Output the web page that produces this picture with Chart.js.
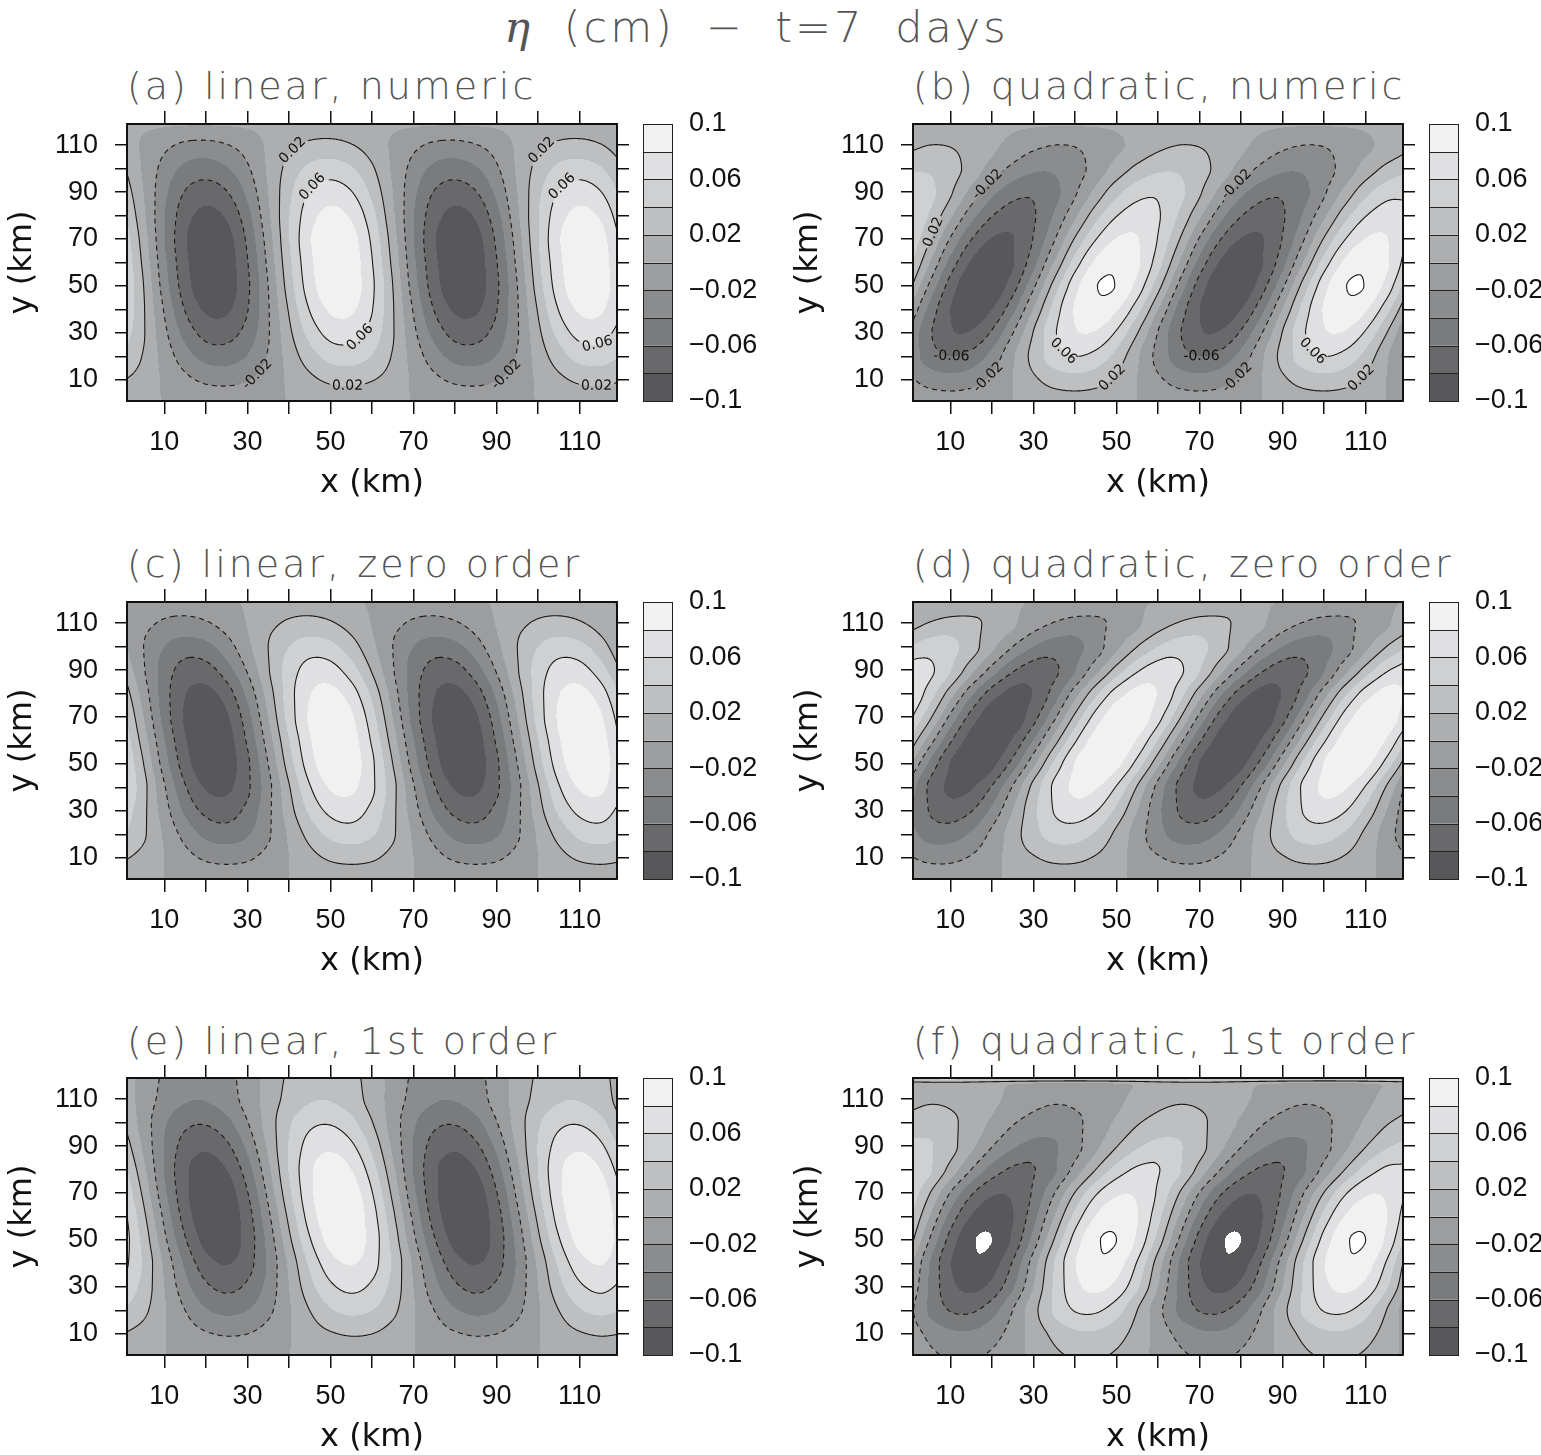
<!DOCTYPE html>
<html>
<head>
<meta charset="utf-8">
<script src="https://cdn.jsdelivr.net/npm/chart.js@4.4.1/dist/chart.umd.min.js"></script>
<style>
html, body { margin: 0; padding: 0; background: #fff; overflow: hidden; }
body { width: 1541px; height: 1455px; position: relative; font-family: "DejaVu Sans", sans-serif; }
canvas { position: absolute; }
.ttl { position: absolute; font-size: 38px; line-height: 40px; color: #555; white-space: nowrap; font-weight: 200; letter-spacing: 3px; }
</style>
</head>
<body>
<div class="ttl" style="left:-14px;width:1541px;top:5px;text-align:center;font-size:43px;line-height:44px;letter-spacing:3px;word-spacing:14px"><span style="font-family:'DejaVu Serif';font-style:italic;font-weight:normal">&eta;</span> (cm) &minus; t=7 days</div>
<div class="ttl" style="left:127px;top:66px">(a) linear, numeric</div>
<div class="ttl" style="left:913px;top:66px">(b) quadratic, numeric</div>
<div class="ttl" style="left:127px;top:544px">(c) linear, zero order</div>
<div class="ttl" style="left:913px;top:544px">(d) quadratic, zero order</div>
<div class="ttl" style="left:127px;top:1021px">(e) linear, 1st order</div>
<div class="ttl" style="left:913px;top:1021px">(f) quadratic, 1st order</div>

<canvas id="ca" width="800" height="491" style="left:0;top:14px"></canvas>
<canvas id="cb" width="800" height="491" style="left:786px;top:14px"></canvas>
<canvas id="cc" width="800" height="491" style="left:0;top:492px"></canvas>
<canvas id="cd" width="800" height="491" style="left:786px;top:492px"></canvas>
<canvas id="ce" width="800" height="491" style="left:0;top:968px"></canvas>
<canvas id="cf" width="800" height="491" style="left:786px;top:968px"></canvas>

<script>
// grid nodes (km)
const xKm = [0,5,10,15,20,25,30,35,40,45,50,55,60,65,70,75,80,85,90,95,100,105,110,115,120];
const yKm = [0,10,20,30,40,50,60,70,80,90,100,110,120];
const yKmF = [0,10,20,30,40,50,60,70,80,90,100,110,116,119];

const axisTicks = [10,20,30,40,50,60,70,80,90,100,110];
const axisLabels = [10,30,50,70,90,110];

// eta in units of 0.01 cm
const shadeEdges = [-10,-8,-6,-4,-2,0,2,4,6,8,10];
const shadeColors = ['#58585a','#69696b','#7a7b7d','#8b8c8e','#9c9d9f','#adaeb0','#bebfc1','#cfd0d2','#e0e0e2','#f1f1f2'];
const lineLevels = [-6,-2,2,6,10];
const barTicks = [-0.1,-0.06,-0.02,0.02,0.06,0.1];
const barLabels = ['\u22120.1','\u22120.06','\u22120.02','0.02','0.06','0.1'];

// rows go from y=0 (first) to the top; columns follow xKm
const etaA = [
  [0.3,0.1,0,-0.2,-0.3,-0.3,-0.3,-0.1,0,0.2,0.3,0.3,0.3,0.1,0,-0.2,-0.3,-0.3,-0.3,-0.1,0,0.2,0.3,0.3,0.3],
  [2.1,1.1,-0.3,-1.5,-2.4,-2.6,-2.1,-1.1,0.3,1.5,2.4,2.6,2.1,1.1,-0.3,-1.5,-2.4,-2.6,-2.1,-1.1,0.3,1.5,2.4,2.6,2.1],
  [3.9,1.8,-0.8,-3.1,-4.7,-4.9,-3.9,-1.8,0.8,3.1,4.7,4.9,3.9,1.8,-0.8,-3.1,-4.7,-4.9,-3.9,-1.8,0.8,3.1,4.7,4.9,3.9],
  [5.2,2.2,-1.5,-4.7,-6.7,-6.8,-5.2,-2.2,1.5,4.7,6.7,6.8,5.2,2.2,-1.5,-4.7,-6.7,-6.8,-5.2,-2.2,1.5,4.7,6.7,6.8,5.2],
  [6.1,2.2,-2.2,-6.1,-8.3,-8.3,-6.1,-2.2,2.2,6.1,8.3,8.3,6.1,2.2,-2.2,-6.1,-8.3,-8.3,-6.1,-2.2,2.2,6.1,8.3,8.3,6.1],
  [6.4,2.0,-3.0,-7.1,-9.4,-9.1,-6.4,-2.0,3.0,7.1,9.4,9.1,6.4,2.0,-3.0,-7.1,-9.4,-9.1,-6.4,-2.0,3.0,7.1,9.4,9.1,6.4],
  [6.1,1.5,-3.5,-7.5,-9.6,-9.1,-6.1,-1.5,3.5,7.5,9.6,9.1,6.1,1.5,-3.5,-7.5,-9.6,-9.1,-6.1,-1.5,3.5,7.5,9.6,9.1,6.1],
  [5.6,1.0,-3.9,-7.8,-9.6,-8.8,-5.6,-1.0,3.9,7.8,9.6,8.8,5.6,1.0,-3.9,-7.8,-9.6,-8.8,-5.6,-1.0,3.9,7.8,9.6,8.8,5.6],
  [4.7,0.4,-3.9,-7.2,-8.6,-7.7,-4.7,-0.4,3.9,7.2,8.6,7.7,4.7,0.4,-3.9,-7.2,-8.6,-7.7,-4.7,-0.4,3.9,7.2,8.6,7.7,4.7],
  [3.5,0,-3.5,-6.1,-7.0,-6.1,-3.5,0,3.5,6.1,7.0,6.1,3.5,0,-3.5,-6.1,-7.0,-6.1,-3.5,0,3.5,6.1,7.0,6.1,3.5],
  [2.3,-0.3,-2.7,-4.5,-5.0,-4.2,-2.3,0.3,2.7,4.5,5.0,4.2,2.3,-0.3,-2.7,-4.5,-5.0,-4.2,-2.3,0.3,2.7,4.5,5.0,4.2,2.3],
  [1.1,-0.3,-1.5,-2.4,-2.6,-2.1,-1.1,0.3,1.5,2.4,2.6,2.1,1.1,-0.3,-1.5,-2.4,-2.6,-2.1,-1.1,0.3,1.5,2.4,2.6,2.1,1.1],
  [0.5,0.5,0.5,0.5,0.5,0.5,0.5,0.5,0.5,0.5,0.5,0.5,0.5,0.5,0.5,0.5,0.5,0.5,0.5,0.5,0.5,0.5,0.5,0.5,0.5]
];

const etaB = [
  [-0.4,-0.6,-0.7,-0.6,-0.4,0,0.4,0.6,0.7,0.6,0.4,0,-0.4,-0.6,-0.7,-0.6,-0.4,0,0.4,0.6,0.7,0.6,0.4,0,-0.4],
  [-1.6,-2.8,-3.2,-2.8,-1.6,0,1.6,2.8,3.2,2.8,1.6,0,-1.6,-2.8,-3.2,-2.8,-1.6,0,1.6,2.8,3.2,2.8,1.6,0,-1.6],
  [-2.7,-5.0,-6.0,-5.3,-3.3,-0.3,2.7,5.0,6.0,5.3,3.3,0.3,-2.7,-5.0,-6.0,-5.3,-3.3,-0.3,2.7,5.0,6.0,5.3,3.3,0.3,-2.7],
  [-2.1,-5.7,-7.8,-7.8,-5.7,-2.1,2.1,5.7,7.8,7.8,5.7,2.1,-2.1,-5.7,-7.8,-7.8,-5.7,-2.1,2.1,5.7,7.8,7.8,5.7,2.1,-2.1],
  [0.1,-4.6,-8.0,-9.3,-8.0,-4.6,0.1,4.8,8.2,9.5,8.2,4.8,0.1,-4.6,-8.0,-9.3,-8.0,-4.6,0.1,4.8,8.2,9.5,8.2,4.8,0.1],
  [2.8,-2.4,-6.9,-9.5,-9.5,-6.9,-2.4,2.8,7.3,9.9,9.9,7.3,2.8,-2.4,-6.9,-9.5,-9.5,-6.9,-2.4,2.8,7.3,9.9,9.9,7.3,2.8],
  [4.9,0.1,-4.7,-8.2,-9.5,-8.2,-4.7,0.1,4.9,8.4,9.7,8.4,4.9,0.1,-4.7,-8.2,-9.5,-8.2,-4.7,0.1,4.9,8.4,9.7,8.4,4.9],
  [5.9,2.2,-2.2,-5.9,-8.1,-8.1,-5.9,-2.2,2.2,5.9,8.1,8.1,5.9,2.2,-2.2,-5.9,-8.1,-8.1,-5.9,-2.2,2.2,5.9,8.1,8.1,5.9],
  [6.2,3.8,0.4,-3.2,-5.9,-7.0,-6.2,-3.8,-0.4,3.2,5.9,7.0,6.2,3.8,0.4,-3.2,-5.9,-7.0,-6.2,-3.8,-0.4,3.2,5.9,7.0,6.2],
  [5.7,4.6,2.3,-0.6,-3.4,-5.2,-5.7,-4.6,-2.3,0.6,3.4,5.2,5.7,4.6,2.3,-0.6,-3.4,-5.2,-5.7,-4.6,-2.3,0.6,3.4,5.2,5.7],
  [3.6,3.7,2.8,1.2,-0.8,-2.5,-3.6,-3.7,-2.8,-1.2,0.8,2.5,3.6,3.7,2.8,1.2,-0.8,-2.5,-3.6,-3.7,-2.8,-1.2,0.8,2.5,3.6],
  [1.5,2.0,1.9,1.3,0.4,-0.6,-1.5,-2.0,-1.9,-1.3,-0.4,0.6,1.5,2.0,1.9,1.3,0.4,-0.6,-1.5,-2.0,-1.9,-1.3,-0.4,0.6,1.5],
  [0.5,0.5,0.5,0.5,0.5,0.5,0.5,0.5,0.5,0.5,0.5,0.5,0.5,0.5,0.5,0.5,0.5,0.5,0.5,0.5,0.5,0.5,0.5,0.5,0.5]
];

const etaC = [
  [0.4,0.3,0,-0.2,-0.4,-0.5,-0.4,-0.3,0,0.2,0.4,0.5,0.4,0.3,0,-0.2,-0.4,-0.5,-0.4,-0.3,0,0.2,0.4,0.5,0.4],
  [2.3,1.3,0,-1.3,-2.3,-2.6,-2.3,-1.3,0,1.3,2.3,2.6,2.3,1.3,0,-1.3,-2.3,-2.6,-2.3,-1.3,0,1.3,2.3,2.6,2.3],
  [4.2,2.3,-0.3,-2.7,-4.5,-5.0,-4.2,-2.3,0.3,2.7,4.5,5.0,4.2,2.3,-0.3,-2.7,-4.5,-5.0,-4.2,-2.3,0.3,2.7,4.5,5.0,4.2],
  [5.4,2.5,-1.1,-4.4,-6.5,-6.9,-5.4,-2.5,1.1,4.4,6.5,6.9,5.4,2.5,-1.1,-4.4,-6.5,-6.9,-5.4,-2.5,1.1,4.4,6.5,6.9,5.4],
  [6.4,2.7,-1.8,-5.8,-8.2,-8.4,-6.4,-2.7,1.8,5.8,8.2,8.4,6.4,2.7,-1.8,-5.8,-8.2,-8.4,-6.4,-2.7,1.8,5.8,8.2,8.4,6.4],
  [6.4,2.0,-3.0,-7.1,-9.4,-9.1,-6.4,-2.0,3.0,7.1,9.4,9.1,6.4,2.0,-3.0,-7.1,-9.4,-9.1,-6.4,-2.0,3.0,7.1,9.4,9.1,6.4],
  [5.7,1.0,-3.9,-7.8,-9.7,-8.9,-5.7,-1.0,3.9,7.8,9.7,8.9,5.7,1.0,-3.9,-7.8,-9.7,-8.9,-5.7,-1.0,3.9,7.8,9.7,8.9,5.7],
  [4.8,0,-4.8,-8.3,-9.6,-8.3,-4.8,0,4.8,8.3,9.6,8.3,4.8,0,-4.8,-8.3,-9.6,-8.3,-4.8,0,4.8,8.3,9.6,8.3,4.8],
  [3.5,-0.9,-5.1,-7.9,-8.6,-7.0,-3.5,0.9,5.1,7.9,8.6,7.0,3.5,-0.9,-5.1,-7.9,-8.6,-7.0,-3.5,0.9,5.1,7.9,8.6,7.0,3.5],
  [1.8,-1.8,-4.9,-6.8,-6.8,-4.9,-1.8,1.8,4.9,6.8,6.8,4.9,1.8,-1.8,-4.9,-6.8,-6.8,-4.9,-1.8,1.8,4.9,6.8,6.8,4.9,1.8],
  [0.5,-2.0,-4.0,-5.0,-4.6,-2.9,-0.5,2.0,4.0,5.0,4.6,2.9,0.5,-2.0,-4.0,-5.0,-4.6,-2.9,-0.5,2.0,4.0,5.0,4.6,2.9,0.5],
  [-0.1,-1.4,-2.3,-2.6,-2.2,-1.2,0.1,1.4,2.3,2.6,2.2,1.2,-0.1,-1.4,-2.3,-2.6,-2.2,-1.2,0.1,1.4,2.3,2.6,2.2,1.2,-0.1],
  [-0.2,-0.5,-0.8,-0.8,-0.6,-0.2,0.2,0.5,0.8,0.8,0.6,0.2,-0.2,-0.5,-0.8,-0.8,-0.6,-0.2,0.2,0.5,0.8,0.8,0.6,0.2,-0.2]
];

const etaD = [
  [-0.3,-0.4,-0.4,-0.3,-0.1,0.1,0.3,0.4,0.4,0.3,0.1,-0.1,-0.3,-0.4,-0.4,-0.3,-0.1,0.1,0.3,0.4,0.4,0.3,0.1,-0.1,-0.3],
  [-1.8,-2.5,-2.5,-1.8,-0.7,0.7,1.8,2.5,2.5,1.8,0.7,-0.7,-1.8,-2.5,-2.5,-1.8,-0.7,0.7,1.8,2.5,2.5,1.8,0.7,-0.7,-1.8],
  [-3.3,-4.8,-4.9,-3.7,-1.5,1.0,3.3,4.8,4.9,3.7,1.5,-1.0,-3.3,-4.8,-4.9,-3.7,-1.5,1.0,3.3,4.8,4.9,3.7,1.5,-1.0,-3.3],
  [-3.5,-6.1,-7.0,-6.1,-3.5,0,3.5,6.1,7.0,6.1,3.5,0,-3.5,-6.1,-7.0,-6.1,-3.5,0,3.5,6.1,7.0,6.1,3.5,0,-3.5],
  [-2.7,-6.4,-8.4,-8.2,-5.8,-1.8,2.7,6.4,8.4,8.2,5.8,1.8,-2.7,-6.4,-8.4,-8.2,-5.8,-1.8,2.7,6.4,8.4,8.2,5.8,1.8,-2.7],
  [0.5,-4.4,-8.1,-9.6,-8.6,-5.2,-0.5,4.4,8.1,9.6,8.6,5.2,0.5,-4.4,-8.1,-9.6,-8.6,-5.2,-0.5,4.4,8.1,9.6,8.6,5.2,0.5],
  [3.9,-1.0,-5.7,-8.9,-9.7,-7.8,-3.9,1.0,5.7,8.9,9.7,7.8,3.9,-1.0,-5.7,-8.9,-9.7,-7.8,-3.9,1.0,5.7,8.9,9.7,7.8,3.9],
  [6.8,2.5,-2.5,-6.8,-9.3,-9.3,-6.8,-2.5,2.5,6.8,9.3,9.3,6.8,2.5,-2.5,-6.8,-9.3,-9.3,-6.8,-2.5,2.5,6.8,9.3,9.3,6.8],
  [7.9,5.1,0.9,-3.5,-7.0,-8.6,-7.9,-5.1,-0.9,3.5,7.0,8.6,7.9,5.1,0.9,-3.5,-7.0,-8.6,-7.9,-5.1,-0.9,3.5,7.0,8.6,7.9],
  [7.0,6.4,4.1,0.7,-2.8,-5.7,-7.0,-6.4,-4.1,-0.7,2.8,5.7,7.0,6.4,4.1,0.7,-2.8,-5.7,-7.0,-6.4,-4.1,-0.7,2.8,5.7,7.0],
  [4.0,5.0,4.6,2.9,0.5,-2.0,-4.0,-5.0,-4.6,-2.9,-0.5,2.0,4.0,5.0,4.6,2.9,0.5,-2.0,-4.0,-5.0,-4.6,-2.9,-0.5,2.0,4.0],
  [1.1,2.1,2.6,2.4,1.5,0.3,-1.1,-2.1,-2.6,-2.4,-1.5,-0.3,1.1,2.1,2.6,2.4,1.5,0.3,-1.1,-2.1,-2.6,-2.4,-1.5,-0.3,1.1],
  [0,0.2,0.3,0.4,0.3,0.2,0,-0.2,-0.3,-0.4,-0.3,-0.2,0,0.2,0.3,0.4,0.3,0.2,0,-0.2,-0.3,-0.4,-0.3,-0.2,0]
];

const etaE = [
  [0.3,0.2,0,-0.1,-0.2,-0.3,-0.3,-0.2,0,0.1,0.2,0.3,0.3,0.2,0,-0.1,-0.2,-0.3,-0.3,-0.2,0,0.1,0.2,0.3,0.3],
  [2.0,1.2,0.1,-1.0,-1.8,-2.2,-2.0,-1.2,-0.1,1.0,1.8,2.2,2.0,1.2,0.1,-1.0,-1.8,-2.2,-2.0,-1.2,-0.1,1.0,1.8,2.2,2.0],
  [4.0,2.5,0.2,-2.0,-3.8,-4.5,-4.0,-2.5,-0.2,2.0,3.8,4.5,4.0,2.5,0.2,-2.0,-3.8,-4.5,-4.0,-2.5,-0.2,2.0,3.8,4.5,4.0],
  [5.6,3.3,0,-3.3,-5.6,-6.5,-5.6,-3.3,0,3.3,5.6,6.5,5.6,3.3,0,-3.3,-5.6,-6.5,-5.6,-3.3,0,3.3,5.6,6.5,5.6],
  [6.8,3.7,-0.4,-4.4,-7.2,-8.1,-6.8,-3.7,0.4,4.4,7.2,8.1,6.8,3.7,-0.4,-4.4,-7.2,-8.1,-6.8,-3.7,0.4,4.4,7.2,8.1,6.8],
  [7.2,3.3,-1.5,-5.8,-8.7,-9.2,-7.2,-3.3,1.5,5.8,8.7,9.2,7.2,3.3,-1.5,-5.8,-8.7,-9.2,-7.2,-3.3,1.5,5.8,8.7,9.2,7.2],
  [6.9,2.5,-2.5,-6.9,-9.4,-9.4,-6.9,-2.5,2.5,6.9,9.4,9.4,6.9,2.5,-2.5,-6.9,-9.4,-9.4,-6.9,-2.5,2.5,6.9,9.4,9.4,6.9],
  [6.1,1.5,-3.5,-7.5,-9.6,-9.1,-6.1,-1.5,3.5,7.5,9.6,9.1,6.1,1.5,-3.5,-7.5,-9.6,-9.1,-6.1,-1.5,3.5,7.5,9.6,9.1,6.1],
  [4.9,0.5,-4.1,-7.6,-9.0,-8.0,-4.9,-0.5,4.1,7.6,9.0,8.0,4.9,0.5,-4.1,-7.6,-9.0,-8.0,-4.9,-0.5,4.1,7.6,9.0,8.0,4.9],
  [3.5,-0.4,-4.1,-6.8,-7.6,-6.4,-3.5,0.4,4.1,6.8,7.6,6.4,3.5,-0.4,-4.1,-6.8,-7.6,-6.4,-3.5,0.4,4.1,6.8,7.6,6.4,3.5],
  [2.1,-0.9,-3.7,-5.5,-5.8,-4.6,-2.1,0.9,3.7,5.5,5.8,4.6,2.1,-0.9,-3.7,-5.5,-5.8,-4.6,-2.1,0.9,3.7,5.5,5.8,4.6,2.1],
  [1.2,-0.8,-2.7,-3.8,-3.9,-3.0,-1.2,0.8,2.7,3.8,3.9,3.0,1.2,-0.8,-2.7,-3.8,-3.9,-3.0,-1.2,0.8,2.7,3.8,3.9,3.0,1.2],
  [1.1,-0.7,-2.3,-3.3,-3.4,-2.6,-1.1,0.7,2.3,3.3,3.4,2.6,1.1,-0.7,-2.3,-3.3,-3.4,-2.6,-1.1,0.7,2.3,3.3,3.4,2.6,1.1]
];

// panel f uses yKmF (extra rows near the top boundary)
const etaF = [
  [-0.5,-1.5,-2.1,-2.2,-1.6,-0.7,0.5,1.5,2.1,2.2,1.6,0.7,-0.5,-1.5,-2.1,-2.2,-1.6,-0.7,0.5,1.5,2.1,2.2,1.6,0.7,-0.5],
  [-0.8,-2.5,-3.6,-3.7,-2.8,-1.2,0.8,2.5,3.6,3.7,2.8,1.2,-0.8,-2.5,-3.6,-3.7,-2.8,-1.2,0.8,2.5,3.6,3.7,2.8,1.2,-0.8],
  [-1.3,-4.3,-6.1,-6.3,-4.8,-2.0,1.3,4.3,6.1,6.3,4.8,2.0,-1.3,-4.3,-6.1,-6.3,-4.8,-2.0,1.3,4.3,6.1,6.3,4.8,2.0,-1.3],
  [0,-4.3,-7.4,-8.5,-7.4,-4.3,0,4.3,7.4,8.5,7.4,4.3,0,-4.3,-7.4,-8.5,-7.4,-4.3,0,4.3,7.4,8.5,7.4,4.3,0],
  [1.0,-4.0,-7.9,-9.8,-9.0,-5.8,-1.0,4.0,7.9,9.8,9.0,5.8,1.0,-4.0,-7.9,-9.8,-9.0,-5.8,-1.0,4.0,7.9,9.8,9.0,5.8,1.0],
  [3.2,-2.1,-6.8,-9.7,-10.0,-7.6,-3.2,2.1,6.8,9.7,10.0,7.6,3.2,-2.1,-6.8,-9.7,-10.0,-7.6,-3.2,2.1,6.8,9.7,10.0,7.6,3.2],
  [4.7,0,-4.7,-8.1,-9.3,-8.1,-4.7,0,4.7,8.1,9.3,8.1,4.7,0,-4.7,-8.1,-9.3,-8.1,-4.7,0,4.7,8.1,9.3,8.1,4.7],
  [5.7,2.1,-2.1,-5.7,-7.7,-7.7,-5.7,-2.1,2.1,5.7,7.7,7.7,5.7,2.1,-2.1,-5.7,-7.7,-7.7,-5.7,-2.1,2.1,5.7,7.7,7.7,5.7],
  [6.1,4.3,1.3,-2.0,-4.8,-6.3,-6.1,-4.3,-1.3,2.0,4.8,6.3,6.1,4.3,1.3,-2.0,-4.8,-6.3,-6.1,-4.3,-1.3,2.0,4.8,6.3,6.1],
  [4.6,4.2,2.7,0.5,-1.9,-3.7,-4.6,-4.2,-2.7,-0.5,1.9,3.7,4.6,4.2,2.7,0.5,-1.9,-3.7,-4.6,-4.2,-2.7,-0.5,1.9,3.7,4.6],
  [2.7,3.0,2.4,1.2,-0.3,-1.8,-2.7,-3.0,-2.4,-1.2,0.3,1.8,2.7,3.0,2.4,1.2,-0.3,-1.8,-2.7,-3.0,-2.4,-1.2,0.3,1.8,2.7],
  [1.3,1.7,1.6,1.1,0.4,-0.5,-1.3,-1.7,-1.6,-1.1,-0.4,0.5,1.3,1.7,1.6,1.1,0.4,-0.5,-1.3,-1.7,-1.6,-1.1,-0.4,0.5,1.3],
  [0.6,0.9,1.0,0.8,0.4,-0.1,-0.6,-0.9,-1.0,-0.8,-0.4,0.1,0.6,0.9,1.0,0.8,0.4,-0.1,-0.6,-0.9,-1.0,-0.8,-0.4,0.1,0.6],
  [5,5,5,5,5,5,5,5,5,5,5,5,5,5,5,5,5,5,5,5,5,5,5,5,5]
];

// where inline contour labels go on each line: ul = upper-left, lr = lower-right, ll = lower-left, b = bottom
const panels = [
  { id: 'ca', eta: etaA, ys: yKm, labels: { '2': ['ul', 'b'], '6': ['ul', 'lr'], '-2': ['lr'] } },
  { id: 'cb', eta: etaB, ys: yKm, labels: { '-2': ['ul', 'lr'], '-6': ['b'], '6': ['ll'], '2': ['lr'] } },
  { id: 'cc', eta: etaC, ys: yKm },
  { id: 'cd', eta: etaD, ys: yKm },
  { id: 'ce', eta: etaE, ys: yKm },
  { id: 'cf', eta: etaF, ys: yKmF }
];

Chart.defaults.font.family = "'DejaVu Sans', sans-serif";
Chart.defaults.color = '#111';

// catmull-rom along x
function crAt(row, xv) {
  const step = xKm[1] - xKm[0];
  const n = row.length;
  const u = (xv - xKm[0]) / step;
  let k = Math.floor(u);
  if (k < 0) k = 0;
  if (k > n - 2) k = n - 2;
  const t = u - k;
  const p1 = row[k], p2 = row[k + 1];
  const p0 = k > 0 ? row[k - 1] : 2 * p1 - p2;
  const p3 = k + 2 < n ? row[k + 2] : 2 * p2 - p1;
  return 0.5 * (2 * p1 + (p2 - p0) * t + (2 * p0 - 5 * p1 + 4 * p2 - p3) * t * t + (3 * p1 - p0 - 3 * p2 + p3) * t * t * t);
}

// monotone cubic slopes along y (rows can be unevenly spaced)
function slopes(ys, v, m) {
  const n = ys.length;
  const d = [];
  for (let k = 0; k < n - 1; k++) d.push((v[k + 1] - v[k]) / (ys[k + 1] - ys[k]));
  m[0] = d[0];
  m[n - 1] = d[n - 2];
  for (let k = 1; k < n - 1; k++) {
    if (d[k - 1] * d[k] <= 0) { m[k] = 0; continue; }
    const h0 = ys[k] - ys[k - 1], h1 = ys[k + 1] - ys[k];
    const w1 = 2 * h1 + h0, w2 = h1 + 2 * h0;
    m[k] = (w1 + w2) / (w1 / d[k - 1] + w2 / d[k]);
  }
}

function hermAt(ys, v, m, y) {
  const n = ys.length;
  let k = 0;
  while (k < n - 2 && y > ys[k + 1]) k++;
  const h = ys[k + 1] - ys[k], t = (y - ys[k]) / h;
  const t2 = t * t, t3 = t2 * t;
  return (2 * t3 - 3 * t2 + 1) * v[k] + (t3 - 2 * t2 + t) * h * m[k] + (3 * t2 - 2 * t3) * v[k + 1] + (t3 - t2) * h * m[k + 1];
}

function hexRgb(h) {
  return [parseInt(h.slice(1, 3), 16), parseInt(h.slice(3, 5), 16), parseInt(h.slice(5, 7), 16)];
}
const shadeRgb = shadeColors.map(hexRgb);

function buildField(p, sx, sy, ca) {
  const w = Math.round(ca.right - ca.left), h = Math.round(ca.bottom - ca.top);
  const vals = new Float32Array(w * h);
  const nr = p.ys.length;
  const col = new Array(nr), m = new Array(nr);
  const yv = [];
  for (let j = 0; j < h; j++) yv.push(sy.getValueForPixel(ca.top + j + 0.5));
  for (let i = 0; i < w; i++) {
    const xv = sx.getValueForPixel(ca.left + i + 0.5);
    for (let r = 0; r < nr; r++) col[r] = crAt(p.eta[r], xv);
    slopes(p.ys, col, m);
    for (let j = 0; j < h; j++) vals[j * w + i] = hermAt(p.ys, col, m, yv[j]);
  }
  // shaded image
  const img = document.createElement('canvas');
  img.width = w; img.height = h;
  const ictx = img.getContext('2d');
  const id = ictx.createImageData(w, h);
  const lo = shadeEdges[0], hi = shadeEdges[shadeEdges.length - 1];
  for (let q = 0; q < w * h; q++) {
    const v = vals[q];
    let c = [255, 255, 255];
    if (v >= lo && v <= hi) {
      let k = 0;
      while (k < shadeRgb.length - 1 && v >= shadeEdges[k + 1]) k++;
      c = shadeRgb[k];
    }
    id.data[q * 4] = c[0]; id.data[q * 4 + 1] = c[1]; id.data[q * 4 + 2] = c[2]; id.data[q * 4 + 3] = 255;
  }
  ictx.putImageData(id, 0, 0);
  const lines = lineLevels.map(L => ({ level: L, paths: traceLevel(vals, w, h, L) }));
  return { w, h, img, lines };
}

// marching squares, segments chained into polylines
function traceLevel(vals, w, h, L) {
  const N = w * h;
  const px = new Float32Array(2 * N), py = new Float32Array(2 * N);
  const nb1 = new Int32Array(2 * N).fill(-1), nb2 = new Int32Array(2 * N).fill(-1);
  const used = [];
  function hEdge(i, j, a, b) {
    const id = j * w + i;
    px[id] = i + (L - a) / (b - a); py[id] = j;
    return id;
  }
  function vEdge(i, j, a, b) {
    const id = N + j * w + i;
    px[id] = i; py[id] = j + (L - a) / (b - a);
    return id;
  }
  function link(e1, e2) {
    if (nb1[e1] < 0) { nb1[e1] = e2; used.push(e1); } else nb2[e1] = e2;
    if (nb1[e2] < 0) { nb1[e2] = e1; used.push(e2); } else nb2[e2] = e1;
  }
  for (let j = 0; j < h - 1; j++) {
    for (let i = 0; i < w - 1; i++) {
      const a = vals[j * w + i], b = vals[j * w + i + 1];
      const c = vals[(j + 1) * w + i + 1], d = vals[(j + 1) * w + i];
      const code = (a > L ? 8 : 0) | (b > L ? 4 : 0) | (c > L ? 2 : 0) | (d > L ? 1 : 0);
      if (code === 0 || code === 15) continue;
      const T = () => hEdge(i, j, a, b);
      const R = () => vEdge(i + 1, j, b, c);
      const B = () => hEdge(i, j + 1, d, c);
      const Lf = () => vEdge(i, j, a, d);
      const mid = (a + b + c + d) / 4 > L;
      switch (code) {
        case 1: case 14: link(Lf(), B()); break;
        case 2: case 13: link(B(), R()); break;
        case 3: case 12: link(Lf(), R()); break;
        case 4: case 11: link(T(), R()); break;
        case 6: case 9: link(T(), B()); break;
        case 7: case 8: link(T(), Lf()); break;
        case 5:
          if (mid) { link(T(), Lf()); link(B(), R()); } else { link(T(), R()); link(Lf(), B()); }
          break;
        case 10:
          if (mid) { link(T(), R()); link(Lf(), B()); } else { link(T(), Lf()); link(B(), R()); }
          break;
      }
    }
  }
  const seen = new Uint8Array(2 * N);
  const paths = [];
  function walk(start, closed) {
    const pts = [px[start], py[start]];
    seen[start] = 1;
    let cur = start;
    for (;;) {
      let nx = -1;
      if (nb1[cur] >= 0 && !seen[nb1[cur]]) nx = nb1[cur];
      else if (nb2[cur] >= 0 && !seen[nb2[cur]]) nx = nb2[cur];
      if (nx < 0) break;
      seen[nx] = 1;
      pts.push(px[nx], py[nx]);
      cur = nx;
    }
    if (closed) pts.push(px[start], py[start]);
    paths.push(pts);
  }
  for (const e of used) if (!seen[e] && nb2[e] < 0) walk(e, false);
  for (const e of used) if (!seen[e]) walk(e, true);
  return paths;
}

function levelText(L) {
  const s = (Math.abs(L) / 100).toFixed(2);
  return (L < 0 ? '-' : '') + s;
}

const spotScore = {
  ul: (x, y) => -(x + y),
  lr: (x, y) => x + y,
  ll: (x, y) => y - x,
  b: (x, y) => y
};

function placeLabels(ctx, F, rules) {
  const out = [];
  ctx.font = "14px 'DejaVu Sans', sans-serif";
  for (const ln of F.lines) {
    const spots = rules[String(ln.level)];
    if (!spots) continue;
    const text = levelText(ln.level);
    const tw = ctx.measureText(text).width;
    for (const pts of ln.paths) {
      const n = pts.length / 2;
      if (n < 120) continue;
      for (const sp of spots) {
        const f = spotScore[sp];
        let best = -1, bs = -Infinity;
        for (let q = 0; q < n; q++) {
          const x = pts[2 * q], y = pts[2 * q + 1];
          if (x < 20 || x > F.w - 20 || y < 12 || y > F.h - 12) continue;
          const s = f(x, y);
          if (s > bs) { bs = s; best = q; }
        }
        if (best < 0) continue;
        const x = pts[2 * best], y = pts[2 * best + 1];
        if (out.some(o => Math.hypot(o.x - x, o.y - y) < 40)) continue;
        const q0 = Math.max(0, best - 6), q1 = Math.min(n - 1, best + 6);
        let a = Math.atan2(pts[2 * q1 + 1] - pts[2 * q0 + 1], pts[2 * q1] - pts[2 * q0]);
        if (a > Math.PI / 2) a -= Math.PI;
        if (a < -Math.PI / 2) a += Math.PI;
        out.push({ x, y, a, text, hw: tw / 2 + 2, hh: 7 });
      }
    }
  }
  return out;
}

function fieldPlugin(p) {
  return {
    id: 'field',
    beforeDraw(chart) {
      const { ctx, chartArea: ca, scales } = chart;
      if (!chart.$field) chart.$field = buildField(p, scales.x, scales.y, ca);
      const F = chart.$field;
      const labels = p.labels ? placeLabels(ctx, F, p.labels) : [];
      ctx.save();
      ctx.drawImage(F.img, ca.left, ca.top, F.w, F.h);
      ctx.beginPath();
      ctx.rect(ca.left, ca.top, ca.right - ca.left, ca.bottom - ca.top);
      for (const lb of labels) {
        const c = Math.cos(lb.a), s = Math.sin(lb.a);
        const cx = ca.left + lb.x + 0.5, cy = ca.top + lb.y + 0.5;
        const corner = (u, v) => [cx + u * c - v * s, cy + u * s + v * c];
        const k = [corner(-lb.hw, -lb.hh), corner(lb.hw, -lb.hh), corner(lb.hw, lb.hh), corner(-lb.hw, lb.hh)];
        ctx.moveTo(k[0][0], k[0][1]);
        for (let q = 1; q < 4; q++) ctx.lineTo(k[q][0], k[q][1]);
        ctx.closePath();
      }
      ctx.clip('evenodd');
      ctx.strokeStyle = '#1a1a1a';
      ctx.lineWidth = 1.1;
      ctx.lineJoin = 'round';
      for (const ln of F.lines) {
        ctx.setLineDash(ln.level < 0 ? [5, 4] : []);
        for (const pts of ln.paths) {
          if (pts.length < 6) continue;
          ctx.beginPath();
          ctx.moveTo(ca.left + pts[0] + 0.5, ca.top + pts[1] + 0.5);
          for (let q = 2; q < pts.length; q += 2) ctx.lineTo(ca.left + pts[q] + 0.5, ca.top + pts[q + 1] + 0.5);
          ctx.stroke();
        }
      }
      ctx.restore();

      ctx.save();
      ctx.font = "14px 'DejaVu Sans', sans-serif";
      ctx.fillStyle = '#111';
      ctx.textAlign = 'center';
      ctx.textBaseline = 'middle';
      for (const lb of labels) {
        ctx.save();
        ctx.translate(ca.left + lb.x + 0.5, ca.top + lb.y + 0.5);
        ctx.rotate(lb.a);
        ctx.fillText(lb.text, 0, 0);
        ctx.restore();
      }
      ctx.restore();

      // colour bar
      const cb = scales.cb;
      const x0 = cb.left, bw = 29;
      ctx.save();
      for (let k = 0; k < shadeColors.length; k++) {
        const y1 = cb.getPixelForValue(shadeEdges[k + 1] / 100);
        const y2 = cb.getPixelForValue(shadeEdges[k] / 100);
        ctx.fillStyle = shadeColors[k];
        ctx.fillRect(x0, y1, bw, y2 - y1);
      }
      ctx.strokeStyle = '#222';
      ctx.lineWidth = 1;
      for (let k = 1; k < shadeEdges.length - 1; k++) {
        const y = Math.round(cb.getPixelForValue(shadeEdges[k] / 100)) + 0.5;
        ctx.beginPath(); ctx.moveTo(x0, y); ctx.lineTo(x0 + bw, y); ctx.stroke();
      }
      const yt = cb.getPixelForValue(shadeEdges[shadeEdges.length - 1] / 100);
      const yb = cb.getPixelForValue(shadeEdges[0] / 100);
      ctx.strokeRect(x0 + 0.5, yt + 0.5, bw, yb - yt);
      ctx.restore();
    }
  };
}

function setTicks(list) {
  return function (scale) { scale.ticks = list.map(v => ({ value: v })); };
}

function makeScales() {
  const grid = { drawOnChartArea: false, drawTicks: true, tickLength: 13, color: '#111', lineWidth: 1.5 };
  const gridY = { drawOnChartArea: false, drawTicks: true, tickLength: 12, color: '#111', lineWidth: 1.5 };
  const border = { display: true, color: '#111', width: 2 };
  const tickFont = { size: 27, family: "'Liberation Sans', Arial, sans-serif" };
  const kmLabel = v => (axisLabels.includes(v) ? String(v) : '');
  return {
    x: {
      type: 'linear', position: 'bottom', min: 1, max: 119,
      afterBuildTicks: setTicks(axisTicks), afterFit: s => { s.height = 104; },
      grid: grid, border: border,
      ticks: { autoSkip: false, maxRotation: 0, padding: 12, font: tickFont, color: '#111', callback: kmLabel },
      title: { display: true, text: 'x (km)', font: { size: 32 }, color: '#111', padding: { top: 0, bottom: 2 } }
    },
    x2: {
      type: 'linear', position: 'top', min: 1, max: 119,
      afterBuildTicks: setTicks(axisTicks), afterFit: s => { s.height = 14; },
      grid: grid, border: border, ticks: { display: false }
    },
    y: {
      type: 'linear', position: 'left', min: 1, max: 119,
      afterBuildTicks: setTicks(axisTicks), afterFit: s => { s.width = 127; },
      grid: gridY, border: border,
      ticks: { autoSkip: false, padding: 17, font: tickFont, color: '#111', callback: kmLabel },
      title: { display: true, text: 'y (km)', font: { size: 32 }, color: '#111', padding: { top: 3, bottom: 0 } }
    },
    y2: {
      type: 'linear', position: 'right', min: 1, max: 119,
      afterBuildTicks: setTicks(axisTicks), afterFit: s => { s.width = 26; },
      grid: gridY, border: border, ticks: { display: false }
    },
    cb: {
      type: 'linear', axis: 'y', position: 'right', weight: 1, min: -0.1, max: 0.1,
      afterBuildTicks: setTicks(barTicks), afterFit: s => { s.width = 157; },
      grid: { display: false }, border: { display: false },
      ticks: { padding: 38, font: tickFont, color: '#111', callback: (v, i) => barLabels[i] }
    }
  };
}

const charts = panels.map(p => new Chart(document.getElementById(p.id), {
  type: 'scatter',
  data: { datasets: [{ data: [] }] },
  options: {
    responsive: false,
    animation: false,
    events: [],
    layout: { padding: { top: 96, left: 0, right: 0, bottom: 0 } },
    plugins: { legend: { display: false }, tooltip: { enabled: false } },
    scales: makeScales()
  },
  plugins: [fieldPlugin(p)]
}));
</script>
</body>
</html>
